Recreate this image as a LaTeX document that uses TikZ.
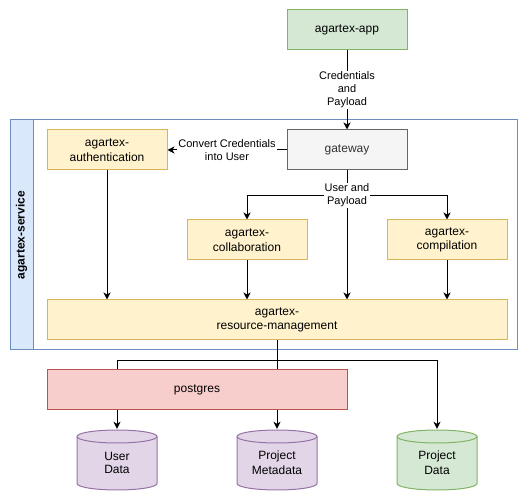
\documentclass[tikz,border=0pt]{standalone}
\usepackage{fontspec}
\setmainfont{Liberation Sans}
\usetikzlibrary{arrows.meta,calc}
\definecolor{grnF}{HTML}{D5E8D4}\definecolor{grnD}{HTML}{82B366}
\definecolor{gryF}{HTML}{F5F5F5}\definecolor{gryD}{HTML}{666666}\definecolor{gryT}{HTML}{333333}
\definecolor{ylwF}{HTML}{FFF2CC}\definecolor{ylwD}{HTML}{D6B656}
\definecolor{redF}{HTML}{F8CECC}\definecolor{redD}{HTML}{B85450}
\definecolor{prpF}{HTML}{E1D5E7}\definecolor{prpD}{HTML}{9673A6}
\definecolor{bluF}{HTML}{DAE8FC}\definecolor{bluD}{HTML}{6C8EBF}
\pgfdeclarelayer{back}\pgfdeclarelayer{edges}
\pgfsetlayers{back,edges,main}
\begin{document}
\begin{tikzpicture}[x=1pt,y=1pt,
  box/.style={draw, line width=1pt, minimum width=120pt, minimum height=40pt,
    align=center, inner sep=0pt, font=\fontsize{12}{14.5}\selectfont},
  greenbox/.style={box, fill=grnF, draw=grnD},
  greybox/.style={box, fill=gryF, draw=gryD, text=gryT},
  yellowbox/.style={box, fill=ylwF, draw=ylwD},
  redbox/.style={box, fill=redF, draw=redD},
  cyl/.style 2 args={minimum width=82pt, minimum height=62pt, inner sep=0pt,
    align=center, font=\fontsize{12}{14.5}\selectfont, text depth=0pt,
    path picture={
      \path[draw=#2, fill=#1, line width=1pt]
        ([shift={(1,-7.5)}]path picture bounding box.north west)
        -- ([shift={(1,7.5)}]path picture bounding box.south west)
        arc[start angle=180, end angle=360, x radius=40, y radius=6.5]
        -- ([shift={(-1,-7.5)}]path picture bounding box.north east)
        arc[start angle=0, end angle=180, x radius=40, y radius=6.5]
        -- cycle;
      \draw[draw=#2, line width=1pt]
        ([shift={(1,-7.5)}]path picture bounding box.north west)
        arc[start angle=180, end angle=360, x radius=40, y radius=6.5];
    }},
  arr/.style={draw=black, line width=1pt, -{Stealth[length=7pt, width=7pt, inset=2pt]}},
  lbl/.style={fill=white, align=center, inner sep=1pt, font=\fontsize{11}{13}\selectfont}
]
\useasboundingbox (0,0) rectangle (528,501);

% nodes
\node[greenbox] (app) at (347,471) {agartex-app};
\node[greybox] (gw) at (347,351) {gateway};
\node[yellowbox] (auth) at (107,351) {agartex-\\authentication};
\node[yellowbox] (collab) at (247,261) {agartex-\\collaboration};
\node[yellowbox] (comp) at (447,261) {agartex-\\compilation};
\node[yellowbox, minimum width=460pt] (rm) at (277,181) {agartex-\\resource-management};
\node[redbox, minimum width=300pt] (pg) at (197,111) {postgres};
\node[cyl={prpF}{prpD}] (ud) at (117,41) {\raisebox{-6pt}{\shortstack{User\\[1pt]Data}}};
\node[cyl={prpF}{prpD}] (pm) at (277,41) {\raisebox{-6pt}{\shortstack{Project\\[1pt]Metadata}}};
\node[cyl={grnF}{grnD}] (pd) at (437,41) {\raisebox{-6pt}{\shortstack{Project\\[1pt]Data}}};

% container
\begin{pgfonlayer}{back}
  \node[draw=bluD, line width=1pt, minimum width=507pt, minimum height=230pt, inner sep=0pt] (svc) at (263.5,266) {};
  \node[draw=bluD, fill=bluF, line width=1pt, minimum width=23pt, minimum height=230pt, inner sep=0pt] (svcstrip) at (21.5,266) {};
  \node[rotate=90, font=\bfseries\fontsize{12}{14}\selectfont] (svclbl) at (21.5,266) {agartex-service};
\end{pgfonlayer}

% connectors
\begin{pgfonlayer}{edges}
  \draw[arr] (app) -- node[lbl] {Credentials\\and\\Payload} (gw);
  \draw[arr] (gw) -- node[lbl] {Convert Credentials\\into User} (auth);
  \coordinate (gwb) at ([yshift=-25pt]gw.south);
  \draw[arr] (gw.south) -- (gw.south |- rm.north);
  \draw[arr] (gw.south) -- (gwb) -| (collab.north);
  \draw[arr] (gwb) -| (comp.north);
  \draw[arr] (auth.south) -- (auth.south |- rm.north);
  \draw[arr] (collab.south) -- (collab.south |- rm.north);
  \draw[arr] (comp.south) -- (comp.south |- rm.north);
  \coordinate (rmb) at ([yshift=-20pt]rm.south);
  \draw[arr] (rm.south) -- (rmb) -| (ud.north);
  \draw[arr] (rmb) -- (pm.north);
  \draw[arr] (rmb) -| (pd.north);
\end{pgfonlayer}
\node[lbl] (uplbl) at (gwb) {User and\\Payload};
\end{tikzpicture}
\end{document}
